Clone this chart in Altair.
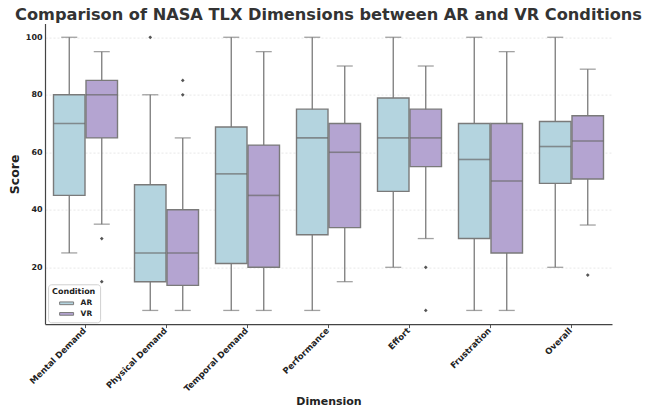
import altair as alt
import pandas as pd

dims = ["Mental Demand", "Physical Demand", "Temporal Demand", "Performance",
        "Effort", "Frustration", "Overall"]
conds = ["AR", "VR"]

ar_lo = [25, 5, 5, 5, 20, 5, 20]
ar_q1 = [45, 15, 21.3, 31.3, 46.4, 30, 49.2]
ar_med = [70, 25, 52.5, 65, 65, 57.5, 62]
ar_q3 = [80, 48.7, 68.8, 75, 78.9, 70, 70.7]
ar_hi = [100, 80, 100, 100, 100, 100, 100]

vr_lo = [35, 5, 5, 15, 30, 5, 34.7]
vr_q1 = [65, 13.7, 20, 33.8, 55, 25, 50.7]
vr_med = [80, 25, 45, 60, 65, 50, 63.9]
vr_q3 = [85, 40, 62.5, 70, 75, 70, 72.7]
vr_hi = [95, 65, 95, 90, 90, 95, 88.9]

out_dim = ["Mental Demand", "Mental Demand", "Physical Demand", "Physical Demand",
           "Physical Demand", "Effort", "Effort", "Overall"]
out_cond = ["VR", "VR", "AR", "VR", "VR", "VR", "VR", "VR"]
out_val = [30, 15, 100, 80, 85, 20, 5, 17.3]

rows = []
for i, d in enumerate(dims):
    rows.append(dict(dim=d, cond="AR", lo=ar_lo[i], q1=ar_q1[i], med=ar_med[i], q3=ar_q3[i], hi=ar_hi[i]))
    rows.append(dict(dim=d, cond="VR", lo=vr_lo[i], q1=vr_q1[i], med=vr_med[i], q3=vr_q3[i], hi=vr_hi[i]))
df = pd.DataFrame(rows)
odf = pd.DataFrame(dict(dim=out_dim, cond=out_cond, val=out_val))

GRAY = "#7a7a7a"
FONT = "DejaVu Sans"

x_enc = alt.X("dim:N", sort=dims, scale=alt.Scale(paddingInner=0, paddingOuter=0),
              axis=alt.Axis(title="Dimension", labelAngle=-45, labelAlign="right",
                            labelBaseline="middle", labelFontSize=8.5, labelFontWeight="bold",
                            labelColor="#222", labelPadding=1, labelOffset=-1,
                            tickSize=3.5, tickColor="#555",
                            grid=False, domainColor="#444", domainWidth=1.2,
                            titleFontSize=11, titleFontWeight="bold", titleColor="#222",
                            titlePadding=3))
xo_enc = alt.XOffset("cond:N", sort=conds,
                     scale=alt.Scale(domain=conds, paddingInner=0, paddingOuter=0.246))
yscale = alt.Scale(domain=[0.25, 104.75], nice=False, zero=False)
y_axis = alt.Axis(title="Score", values=[20, 40, 60, 80, 100], labelFontSize=8,
                  labelFontWeight="bold", labelColor="#222", labelPadding=3, tickSize=0,
                  grid=True, gridColor="#e2e2e2", gridDash=[2, 2], gridWidth=0.8,
                  domainColor="#444", domainWidth=1.2, titleFontSize=12.5,
                  titleFontWeight="bold", titleColor="#222", titlePadding=4)

base = alt.Chart(df)

whisk = base.mark_rule(color=GRAY, strokeWidth=1.3).encode(
    x=x_enc, xOffset=xo_enc,
    y=alt.Y("lo:Q", scale=yscale, axis=y_axis), y2="hi:Q")

cap_lo = base.mark_tick(color=GRAY, size=16, thickness=1.3, orient="horizontal").encode(
    x=x_enc, xOffset=xo_enc, y=alt.Y("lo:Q", scale=yscale))
cap_hi = base.mark_tick(color=GRAY, size=16, thickness=1.3, orient="horizontal").encode(
    x=x_enc, xOffset=xo_enc, y=alt.Y("hi:Q", scale=yscale))

box = base.mark_bar(size=31.5, stroke=GRAY, strokeWidth=1.4).encode(
    x=x_enc, xOffset=xo_enc,
    y=alt.Y("q1:Q", scale=yscale), y2="q3:Q",
    fill=alt.Fill("cond:N", sort=conds,
                  scale=alt.Scale(domain=conds, range=["#b4d4df", "#b4a4d1"]),
                  legend=alt.Legend(title="Condition", orient="none", legendX=3.1, legendY=260.7,
                                    titleFontSize=8, titleFontWeight="bold", titleColor="#222",
                                    titlePadding=2,
                                    labelFontSize=7.5, labelFontWeight="bold", labelColor="#222",
                                    labelOffset=9,
                                    symbolType="M-1.55,-0.3L1.55,-0.3L1.55,0.3L-1.55,0.3Z",
                                    symbolSize=81, symbolOffset=9.5,
                                    symbolStrokeColor=GRAY, symbolStrokeWidth=1,
                                    strokeColor="#d0d0d0", fillColor="white", padding=4,
                                    cornerRadius=3, rowPadding=1.6)))

med = base.mark_tick(color="#6a6a6a", size=31.5, thickness=1.6, orient="horizontal").encode(
    x=x_enc, xOffset=xo_enc, y=alt.Y("med:Q", scale=yscale))

outl = alt.Chart(odf).mark_point(shape="diamond", filled=True, color="#555", size=14, opacity=1).encode(
    x=alt.X("dim:N", sort=dims), xOffset=alt.XOffset("cond:N", sort=conds),
    y=alt.Y("val:Q", scale=yscale))

chart = alt.layer(whisk, cap_lo, cap_hi, box, med, outl).properties(
    width=567, height=300.5,
    title=alt.TitleParams("Comparison of NASA TLX Dimensions between AR and VR Conditions",
                          fontSize=16.2, fontWeight="bold", color="#333", font=FONT,
                          anchor="middle", offset=0.2),
    padding={"left": 37, "top": 15.6, "right": 37, "bottom": 84},
    autosize="none",
).configure(font=FONT).configure_view(stroke=None)

chart.save("out.html", embed_options={"renderer": "svg", "actions": False})
